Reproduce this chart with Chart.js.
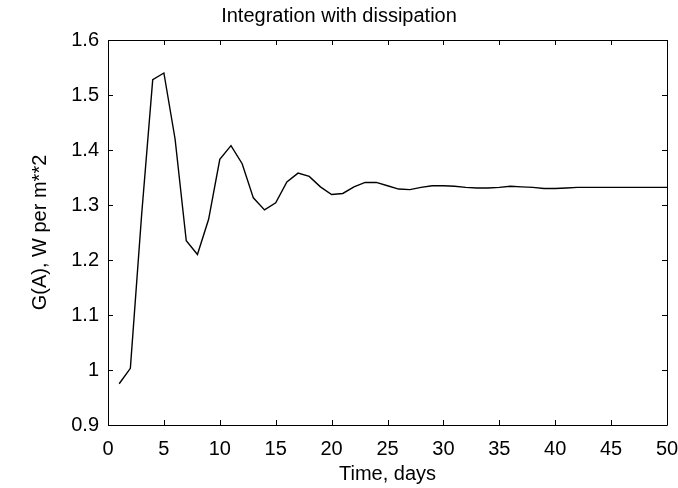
<!DOCTYPE html>
<html>
<head>
<meta charset="utf-8">
<script src="https://cdn.jsdelivr.net/npm/chart.js@4/dist/chart.umd.min.js"></script>
<style>
  html, body { margin: 0; padding: 0; background: #fff; }
  #wrap { width: 678px; height: 488px; }
</style>
</head>
<body>
<div id="wrap"><canvas id="c" width="678" height="488"></canvas></div>
<script>
const chartTitle = "Integration with dissipation";
const xAxisTitle = "Time, days";
const yAxisTitle = "G(A), W per m**2";
const days = [1,2,3,4,5,6,7,8,9,10,11,12,13,14,15,16,17,18,19,20,21,22,23,24,25,26,27,28,29,30,31,32,33,34,35,36,37,38,39,40,41,42,43,44,45,46,47,48,49,50];
const gValues = [0.975,1.003,1.28,1.528,1.540,1.42,1.235,1.210,1.274,1.383,1.408,1.375,1.313,1.291,1.304,1.342,1.358,1.352,1.333,1.319,1.321,1.333,1.341,1.341,1.335,1.329,1.328,1.332,1.335,1.335,1.334,1.332,1.331,1.331,1.332,1.334,1.333,1.332,1.330,1.330,1.331,1.332,1.332,1.332,1.332,1.332,1.332,1.332,1.332,1.332];
const xTickValues = [0,5,10,15,20,25,30,35,40,45,50];
const yTickValues = [0.9,1.0,1.1,1.2,1.3,1.4,1.5,1.6];

const FONT = "'Liberation Sans', Arial, Helvetica, sans-serif";

const framePlugin = {
  id: 'frameTicks',
  afterDatasetsDraw(chart) {
    const {ctx, chartArea: a, scales} = chart;
    const len = 5;
    ctx.save();
    ctx.strokeStyle = '#000';
    ctx.lineWidth = 1;
    ctx.beginPath();
    ctx.rect(Math.round(a.left) + 0.5, Math.round(a.top) + 0.5, Math.round(a.right - a.left), Math.round(a.bottom - a.top));
    ctx.stroke();
    ctx.beginPath();
    xTickValues.forEach(v => {
      const px = Math.round(scales.x.getPixelForValue(v)) + 0.5;
      ctx.moveTo(px, a.bottom); ctx.lineTo(px, a.bottom - len);
      ctx.moveTo(px, a.top); ctx.lineTo(px, a.top + len);
    });
    yTickValues.forEach(v => {
      const py = Math.round(scales.y.getPixelForValue(v)) + 0.5;
      ctx.moveTo(a.left, py); ctx.lineTo(a.left + len, py);
      ctx.moveTo(a.right, py); ctx.lineTo(a.right - len, py);
    });
    ctx.stroke();
    ctx.restore();
  }
};

new Chart(document.getElementById('c'), {
  type: 'line',
  data: {
    datasets: [{
      data: days.map((d, i) => ({x: d, y: gValues[i]})),
      borderColor: '#000',
      borderWidth: 1.4,
      pointRadius: 0,
      tension: 0,
      fill: false
    }]
  },
  options: {
    responsive: false,
    animation: false,
    devicePixelRatio: 1,
    layout: { padding: { left: 0, right: 0, top: 0, bottom: 0 } },
    plugins: {
      legend: { display: false },
      tooltip: { enabled: false },
      title: {
        display: true,
        text: chartTitle,
        color: '#000',
        font: { family: FONT, size: 20, weight: 'normal' },
        padding: { top: 4, bottom: 12 }
      }
    },
    scales: {
      x: {
        type: 'linear',
        min: 0, max: 50,
        afterBuildTicks(scale) { scale.ticks = xTickValues.map(v => ({value: v})); },
        afterFit(scale) { scale.height = 63; scale.paddingRight = 11; scale.paddingLeft = 0; },
        grid: { display: false, drawTicks: false },
        border: { display: false },
        ticks: {
          color: '#000',
          font: { family: FONT, size: 20 },
          padding: 12,
          maxRotation: 0,
          callback: v => String(v)
        },
        title: {
          display: true,
          text: xAxisTitle,
          color: '#000',
          font: { family: FONT, size: 20 },
          padding: { top: 0, bottom: 2 }
        }
      },
      y: {
        type: 'linear',
        min: 0.9, max: 1.6,
        afterBuildTicks(scale) { scale.ticks = yTickValues.map(v => ({value: v})); },
        afterFit(scale) { scale.width = 108; scale.paddingRight = 0; },
        grid: { display: false, drawTicks: false },
        border: { display: false },
        ticks: {
          color: '#000',
          font: { family: FONT, size: 20 },
          padding: 9,
          callback: v => String(parseFloat(Number(v).toFixed(1)))
        },
        title: {
          display: true,
          text: yAxisTitle,
          color: '#000',
          font: { family: FONT, size: 20 },
          padding: { top: 28, bottom: 0 }
        }
      }
    }
  },
  plugins: [framePlugin]
});
</script>
</body>
</html>
